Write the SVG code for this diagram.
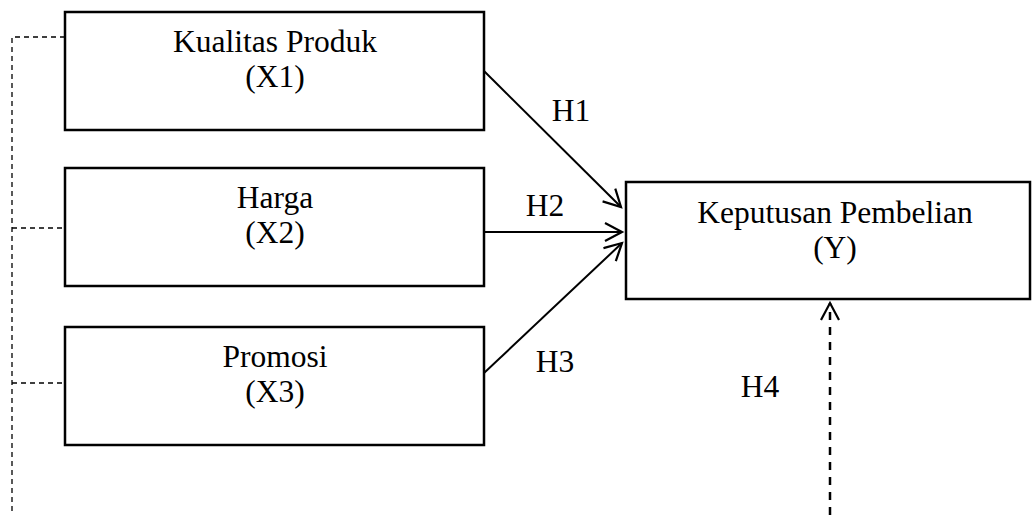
<svg xmlns="http://www.w3.org/2000/svg" width="1032" height="515" viewBox="0 0 1032 515">
<style>
.box{fill:#fff;stroke:#000;stroke-width:2.5}
.t{font-family:"Liberation Serif","Times New Roman",serif;font-size:31.5px;fill:#000;text-anchor:middle}
.arr{fill:none;stroke:#000;stroke-width:2;marker-end:url(#ah)}
.dl{fill:none;stroke:#000;stroke-width:1.3;stroke-dasharray:5,4}
.dh{fill:none;stroke:#000;stroke-width:2.5;stroke-dasharray:8,7;marker-end:url(#ah)}
</style>
<defs>
<marker id="ah" markerUnits="userSpaceOnUse" markerWidth="24" markerHeight="24" refX="18" refY="10" orient="auto" viewBox="0 0 24 24">
<path d="M1,1 L18,10 L1,19" fill="none" stroke="#000" stroke-width="2.2"/>
</marker>
</defs>
<g id="connectors">
<path class="dl" d="M65,37 H12 V515 M12,228 H65 M12,383 H65"/>
<path class="arr" d="M484,71 L621,207"/>
<path class="arr" d="M484,232 L622,232"/>
<path class="arr" d="M484,373 L622,243"/>
<path class="dh" d="M830,515 L830,303"/>
</g>
<g id="x1">
<rect class="box" x="65" y="12" width="419" height="118"/>
<text class="t" x="275" y="52">Kualitas Produk</text>
<text class="t" x="275" y="87">(X1)</text>
</g>
<g id="x2">
<rect class="box" x="65" y="168" width="419" height="118"/>
<text class="t" x="275" y="208">Harga</text>
<text class="t" x="275" y="243">(X2)</text>
</g>
<g id="x3">
<rect class="box" x="65" y="327" width="419" height="118"/>
<text class="t" x="275" y="367">Promosi</text>
<text class="t" x="275" y="402">(X3)</text>
</g>
<g id="y">
<rect class="box" x="626" y="182" width="404" height="117"/>
<text class="t" x="835" y="223">Keputusan Pembelian</text>
<text class="t" x="835" y="258">(Y)</text>
</g>
<g id="labels">
<text class="t" x="571" y="121">H1</text>
<text class="t" x="545" y="216">H2</text>
<text class="t" x="555" y="372">H3</text>
<text class="t" x="760" y="397">H4</text>
</g>
</svg>
